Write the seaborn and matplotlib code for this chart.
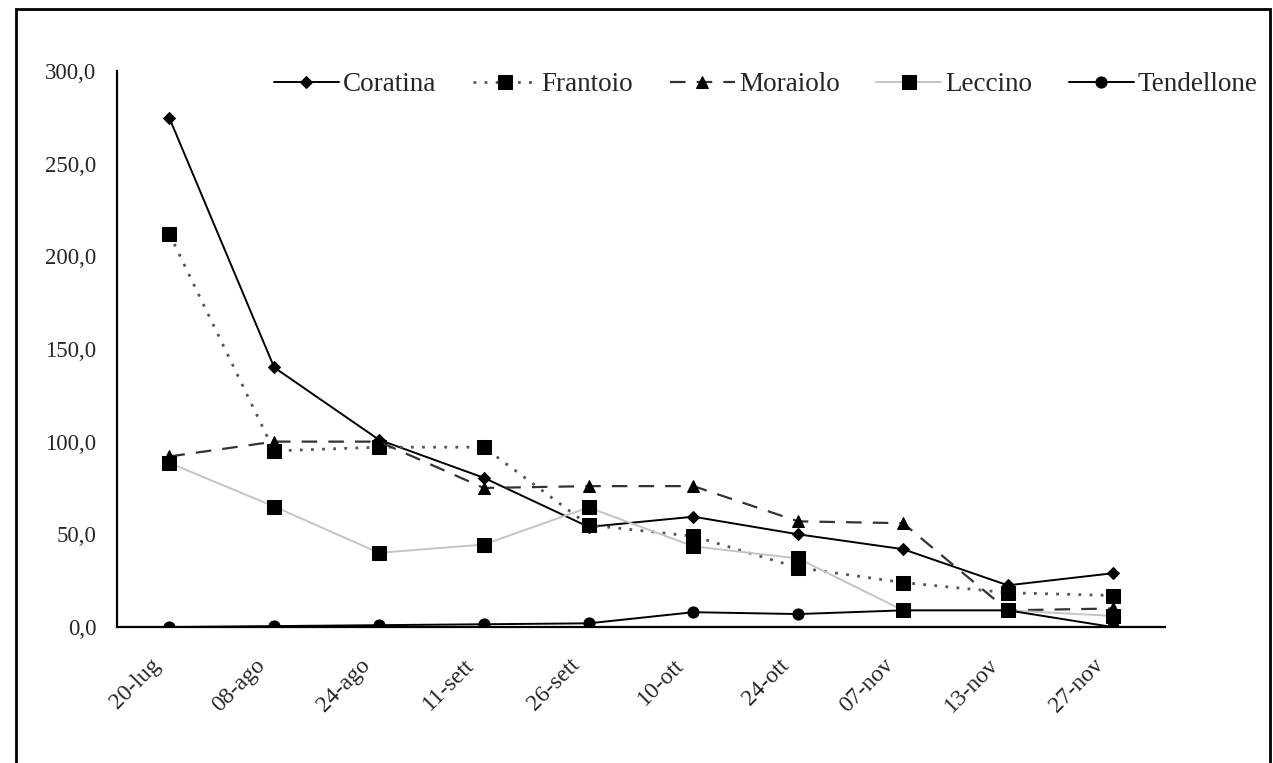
import numpy as np
import matplotlib
matplotlib.use("Agg")
import matplotlib.pyplot as plt
import seaborn as sns
from matplotlib.patches import Rectangle
from matplotlib.ticker import FuncFormatter

# Dates of sampling
dates = ['20-lug', '08-ago', '24-ago', '11-sett', '26-sett',
         '10-ott', '24-ott', '07-nov', '13-nov', '27-nov']

# Series values
coratina = [274.5, 140.0, 101.0, 80.5, 54.0, 59.5, 50.0, 42.0, 22.5, 29.0]
frantoio = [212.0, 95.0, 97.0, 97.0, 55.0, 49.0, 32.0, 24.0, 18.5, 17.0]
moraiolo = [92.0, 100.0, 100.0, 75.0, 76.0, 76.0, 57.0, 56.0, 9.0, 10.0]
leccino = [88.5, 65.0, 40.0, 44.5, 64.5, 43.5, 37.0, 9.0, 9.0, 6.0]
tendellone = [0.0, 0.5, 1.0, 1.5, 2.0, 8.0, 7.0, 9.0, 9.0, 0.0]

sns.set_style("white")
plt.rcParams['font.family'] = ['Liberation Serif', 'DejaVu Serif']

fig = plt.figure(figsize=(12.73, 7.63), dpi=100)
ax = fig.add_axes([0.0919, 0.1782, 0.8233, 0.729])

x = np.arange(len(dates))

series = [
    ('Coratina', coratina, dict(color='black', linestyle='-', marker='D', markersize=6, linewidth=1.4)),
    ('Frantoio', frantoio, dict(color='#555555', linestyle=(0, (1, 3)), marker='s', markersize=10, linewidth=2.0)),
    ('Moraiolo', moraiolo, dict(color='#333333', linestyle=(0, (7, 5)), marker='^', markersize=8, linewidth=1.6)),
    ('Leccino', leccino, dict(color='#c4c4c4', linestyle='-', marker='s', markersize=10, linewidth=1.4)),
    ('Tendellone', tendellone, dict(color='black', linestyle='-', marker='o', markersize=8, linewidth=1.4)),
]

for name, vals, style in series:
    sns.lineplot(x=x, y=vals, ax=ax, label=name, markerfacecolor='black',
                 markeredgecolor='black', sort=False, **style)

ax.set_xlim(-0.5, len(dates) - 0.5)
ax.set_ylim(0, 300)
ax.set_yticks(np.arange(0, 301, 50))
ax.yaxis.set_major_formatter(FuncFormatter(lambda v, p: f"{v:.1f}".replace('.', ',')))

# category labels (slightly left of the centers), tick marks at the boundaries
ax.set_xticks(x - 0.19)
ax.set_xticklabels(dates, rotation=45, ha='right', rotation_mode='anchor', fontsize=17)
ax.set_xticks(np.arange(-0.5, len(dates)), minor=True)
ax.tick_params(axis='x', which='major', length=0, pad=20)
ax.tick_params(axis='x', which='minor', length=7, width=1.5, direction='out')
ax.tick_params(axis='y', length=8, width=1.5, direction='out', labelsize=16.5, pad=7)

for side in ['top', 'right']:
    ax.spines[side].set_visible(False)
for side in ['left', 'bottom']:
    ax.spines[side].set_linewidth(1.6)
    ax.spines[side].set_color('black')

ax.set_xlabel('')
ax.set_ylabel('')

leg = ax.legend(ncol=5, loc='center', bbox_to_anchor=(0.619, 0.975), frameon=False,
                fontsize=19.5, handlelength=2.4, columnspacing=1.35, handletextpad=0.15)

# outer frame around the whole picture
fig.patches.append(Rectangle((0.0126, -0.05), 0.985, 1.038, transform=fig.transFigure,
                             fill=False, edgecolor='black', linewidth=2))

fig.savefig('out.png', dpi=100)
